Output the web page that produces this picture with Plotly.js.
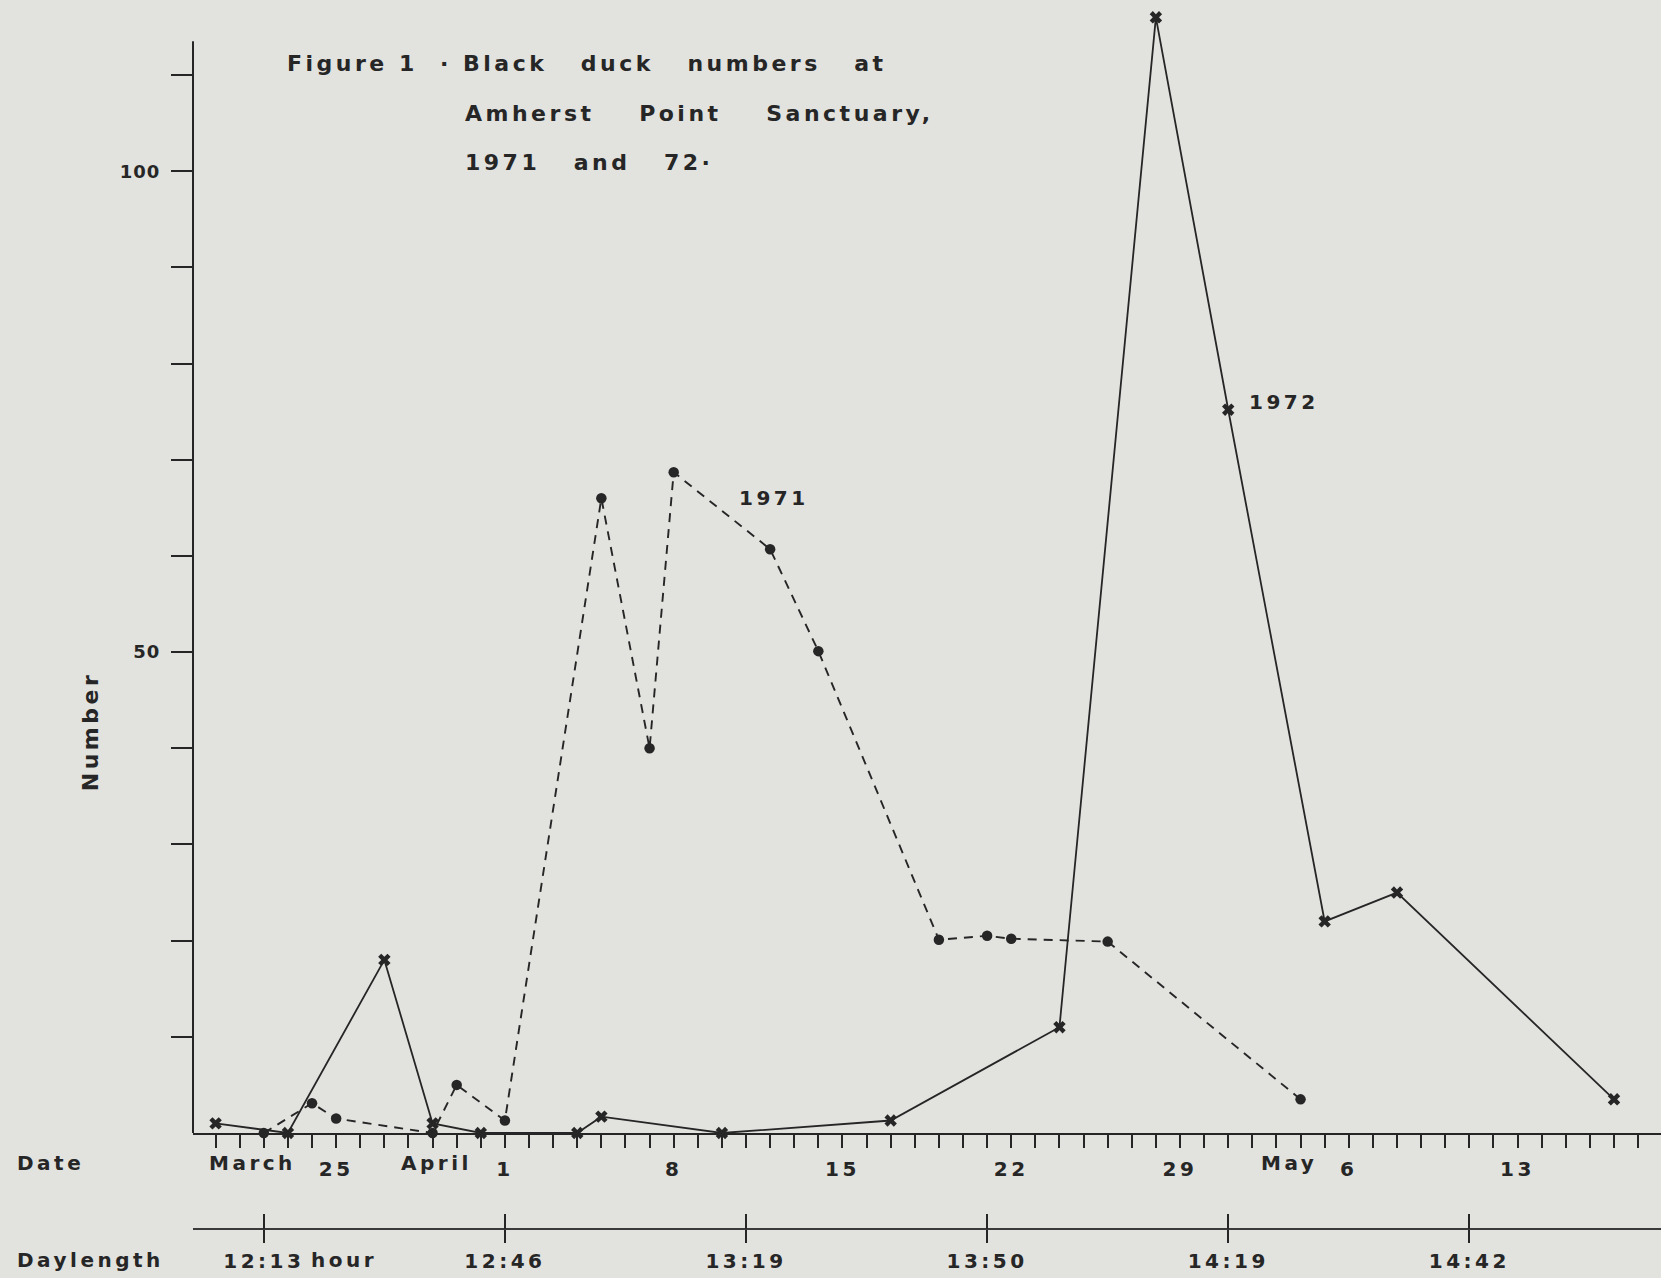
<!DOCTYPE html>
<html><head><meta charset="utf-8">
<script src="https://cdn.plot.ly/plotly-3.0.1.min.js"></script>
<style>
html,body{margin:0;padding:0;background:#e2e2df;}
#chart{width:1661px;height:1278px;}
svg text{letter-spacing:3.5px;}
.gtitle, .annotation-text{letter-spacing:3.5px;}
.ytick text{letter-spacing:1px;}
</style></head><body><div id="chart"></div>
<script>
// ---- data (month-day, common calendar) ----
const dates1971  = ['03-22','03-24','03-25','03-29','03-30','04-01','04-05','04-07','04-08','04-12','04-14','04-19','04-21','04-22','04-26','05-04'];
const counts1971 = [0, 3.1, 1.5, 0, 5.0, 1.3, 66, 40, 68.7, 60.7, 50.1, 20.1, 20.5, 20.2, 19.9, 3.5];
const dates1972  = ['03-20','03-23','03-27','03-29','03-31','04-04','04-05','04-10','04-17','04-24','04-28','05-01','05-05','05-08','05-17'];
const counts1972 = [1.0, 0, 18.0, 1.0, 0, 0, 1.7, 0, 1.3, 11.0, 116, 75.2, 22.0, 25.0, 3.5];
const dateTickDates  = ['03-25','04-01','04-08','04-15','04-22','04-29','05-06','05-13'];
const dateTickLabels = ['25','1','8','15','22','29','6','13'];
const monthDates  = ['03-25','04-01','05-06'];
const monthLabels = ['March','April','May'];
const dayLenDates  = ['03-22','04-01','04-11','04-21','05-01','05-11'];
const dayLenLabels = ['12:13','12:46','13:19','13:50','14:19','14:42'];
const yTickVals   = [10,20,30,40,50,60,70,80,90,100,110];
const yTickLabels = ['','','','','50','','','','','100',''];

// ---- helpers ----
const YEAR = '2000-';
const toDate = md => YEAR + md;
const DAY = 86400000;
const base = Date.UTC(2000,2,20);
const msToStr = ms => new Date(ms).toISOString().replace('T',' ').replace('Z','');
const xRange = [msToStr(base - 0.937*DAY), msToStr(base + 59.95*DAY)];

const INK = '#262626';
const FONT = 'DejaVu Sans';
const f = (size) => ({family: FONT, size: size, color: INK, weight: 'bold'});
const sp = '\u00A0\u00A0\u00A0';
const sp4 = '\u00A0\u00A0\u00A0\u00A0';

const traces = [
  {x: dates1972.map(toDate), y: counts1972, type:'scatter', mode:'lines+markers', name:'1972',
   line:{color:INK, width:1.8}, marker:{symbol:'x', size:11, color:INK}, cliponaxis:false},
  {x: dates1971.map(toDate), y: counts1971, type:'scatter', mode:'lines+markers', name:'1971',
   line:{color:INK, width:1.9, dash:'9px,7px'}, marker:{symbol:'circle', size:10.5, color:INK}, cliponaxis:false},
  // daylength scale carriers (no visible marks)
  {x: dayLenDates.map(toDate), y: dayLenDates.map(()=>null), xaxis:'x2', yaxis:'y', type:'scatter', mode:'markers',
   name:'Daylength', hoverinfo:'skip', showlegend:false},
  {x: dayLenDates.map(toDate), y: dayLenDates.map(()=>null), xaxis:'x3', yaxis:'y', type:'scatter', mode:'markers',
   name:'Daylength ticks', hoverinfo:'skip', showlegend:false}
];

const axBase = {type:'date', range:xRange, showgrid:false, zeroline:false, fixedrange:true};

const annotations = [];
monthLabels.forEach((m,i)=>{
  const shifts = [-38,-31,-30];
  annotations.push({xref:'x', yref:'paper', x: toDate(monthDates[i]), y:0.0755, xanchor:'right', yanchor:'middle',
    xshift: shifts[i], text: m, showarrow:false, font: f(20)});
});
annotations.push({xref:'paper', yref:'paper', x:-0.1212, y:0.0755, xanchor:'left', yanchor:'middle', text:'Date', showarrow:false, font:f(20)});
annotations.push({xref:'paper', yref:'paper', x:-0.1212, y:-0.0018, xanchor:'left', yanchor:'middle', text:'Daylength', showarrow:false, font:f(20)});
annotations.push({xref:'x', yref:'paper', x: toDate(dayLenDates[0]), y:-0.0018, xanchor:'left', yanchor:'middle', xshift:45, text:'hour', showarrow:false, font:f(20)});
annotations.push({xref:'paper', yref:'paper', x:-0.070, y:0.4189, xanchor:'center', yanchor:'middle', textangle:-90, text:'Number', showarrow:false, font:f(22)});
annotations.push({xref:'paper', yref:'paper', x:0.184, y:0.910, xanchor:'left', yanchor:'middle', text:'Amherst'+sp4+'Point'+sp4+'Sanctuary,', showarrow:false, font:f(22)});
annotations.push({xref:'paper', yref:'paper', x:0.184, y:0.8712, xanchor:'left', yanchor:'middle', text:'1971'+sp+'and'+sp+'72·', showarrow:false, font:f(22)});
annotations.push({xref:'x', yref:'y', x: msToStr(base + 23.17*DAY), y:66, xanchor:'center', yanchor:'middle', text:'1971', showarrow:false, font:f(20)});
annotations.push({xref:'x', yref:'y', x: msToStr(base + 44.3*DAY), y:76, xanchor:'center', yanchor:'middle', text:'1972', showarrow:false, font:f(20)});

const layout = {
  width:1661, height:1278,
  margin:{l:193, r:0, t:0, b:20, pad:0},
  paper_bgcolor:'#e2e2df', plot_bgcolor:'#e2e2df',
  showlegend:false, hovermode:false,
  title:{text:'Figure 1\u00A0\u00A0·\u00A0Black'+sp+'duck'+sp+'numbers'+sp+'at', xref:'container', yref:'container',
         x:287/1661, y:1-63.6/1278, xanchor:'left', yanchor:'middle', font:f(22)},
  xaxis: Object.assign({}, axBase, {
    anchor:'y', showline:true, linecolor:INK, linewidth:2,
    tickmode:'array', tickvals: dateTickDates.map(toDate), ticktext: dateTickLabels,
    ticks:'outside', ticklen:13, tickwidth:2, tickcolor:INK, tickfont:f(20), ticklabelstandoff:4,
    minor:{tick0: toDate('03-20'), dtick: DAY, ticks:'outside', ticklen:13, tickwidth:2, tickcolor:INK, showgrid:false}
  }),
  xaxis2: Object.assign({}, axBase, {
    overlaying:'x', anchor:'free', position:1-1228.8/1258, side:'bottom',
    showline:true, linecolor:'#3a3a3a', linewidth:2,
    tickmode:'array', tickvals: dayLenDates.map(toDate), ticktext: dayLenLabels,
    ticks:'outside', ticklen:13, tickwidth:2, tickcolor:INK, tickfont:f(20), ticklabelstandoff:1
  }),
  xaxis3: Object.assign({}, axBase, {
    overlaying:'x', anchor:'free', position:1-1228.8/1258, side:'bottom',
    showline:false, showticklabels:false,
    tickmode:'array', tickvals: dayLenDates.map(toDate),
    ticks:'inside', ticklen:15, tickwidth:2, tickcolor:INK
  }),
  yaxis: {domain:[125/1258, 1], range:[0, 117.8], showgrid:false, zeroline:false, showline:false, fixedrange:true,
    tickmode:'array', tickvals:yTickVals, ticktext:yTickLabels,
    ticks:'outside', ticklen:21, tickwidth:2, tickcolor:INK, tickfont:f(18), ticklabelstandoff:7},
  shapes:[{type:'line', xref:'paper', yref:'y', x0:0, x1:0, y0:0, y1:113.5, line:{color:INK, width:2}, layer:'above'}],
  annotations: annotations
};

Plotly.newPlot('chart', traces, layout, {staticPlot:true, displayModeBar:false});
</script></body></html>
